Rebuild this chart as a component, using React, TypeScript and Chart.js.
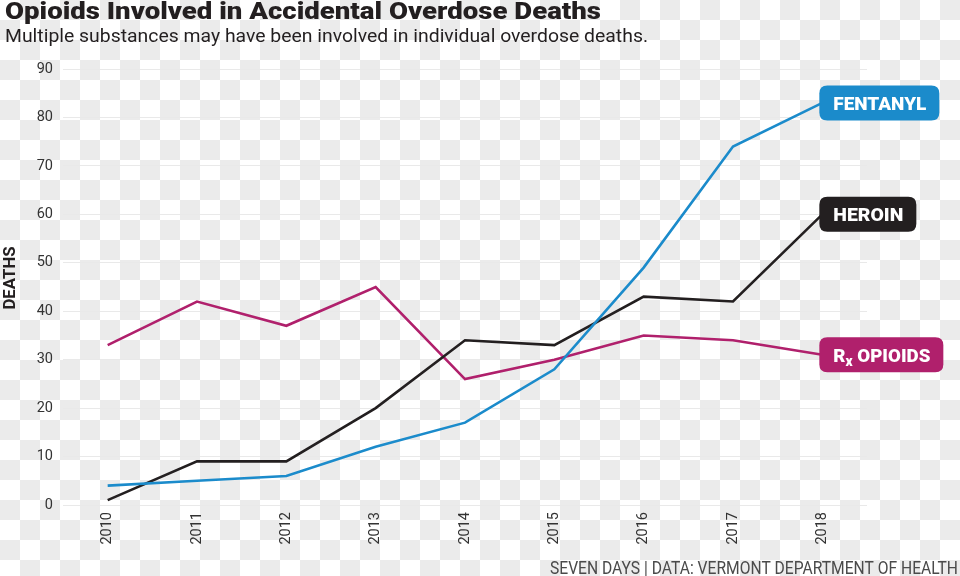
import React, { useEffect, useRef } from "react";
import { Chart, registerables } from "chart.js";

Chart.register(...registerables);

// ---- data ----
const years = ["2010", "2011", "2012", "2013", "2014", "2015", "2016", "2017", "2018"];
const fentanyl = [4, 5, 6, 12, 17, 28, 49, 74, 83];
const heroin = [1, 9, 9, 20, 34, 33, 43, 42, 60];
const rxOpioids = [33, 42, 37, 45, 26, 30, 35, 34, 31];
const yMin = 0;
const yMax = 90;
const yStep = 10;
const seriesNames = ["FENTANYL", "HEROIN", "Rx OPIOIDS"];

const TITLE = "Opioids Involved in Accidental Overdose Deaths";
const SUBTITLE = "Multiple substances may have been involved in individual overdose deaths.";
const SOURCE = "SEVEN DAYS | DATA: VERMONT DEPARTMENT OF HEALTH";
const Y_TITLE = "DEATHS";

// ---- styles ----
const COLORS = ["#1b8bcb", "#231f20", "#b0206c"];
const LABEL_TEXT_WIDTHS = [93, 70, 97];
const FONT = "Roboto, 'Noto Sans', sans-serif";

function fitText(
  ctx: CanvasRenderingContext2D,
  text: string,
  x: number,
  y: number,
  width: number,
  align: "left" | "right" | "center"
) {
  const natural = ctx.measureText(text).width || 1;
  const s = width / natural;
  const startX = align === "left" ? x : align === "right" ? x - width : x - width / 2;
  ctx.save();
  ctx.translate(startX, y);
  ctx.scale(s, 1);
  ctx.textAlign = "left";
  ctx.fillText(text, 0, 0);
  ctx.restore();
}

const textPlugin = {
  id: "textPlugin",
  afterDraw(chart: any) {
    const ctx: CanvasRenderingContext2D = chart.ctx;
    ctx.save();
    ctx.textBaseline = "alphabetic";
    ctx.fillStyle = "#231f20";
    ctx.font = `900 24.5px ${FONT}`;
    fitText(ctx, TITLE, 5, 19, 596, "left");
    ctx.font = `18px ${FONT}`;
    fitText(ctx, SUBTITLE, 5, 41.5, 643, "left");
    ctx.fillStyle = "#4a4a4a";
    ctx.font = `18px ${FONT}`;
    fitText(ctx, SOURCE, 958, 573.5, 408, "right");

    // y axis title
    ctx.fillStyle = "#231f20";
    ctx.font = `bold 16px ${FONT}`;
    ctx.save();
    ctx.translate(14.5, 278);
    ctx.rotate(-Math.PI / 2);
    fitText(ctx, Y_TITLE, 0, 0, 63, "center");
    ctx.restore();
    ctx.restore();
  },
};

function roundRect(ctx: CanvasRenderingContext2D, x: number, y: number, w: number, h: number, r: number) {
  ctx.beginPath();
  ctx.moveTo(x + r, y);
  ctx.lineTo(x + w - r, y);
  ctx.quadraticCurveTo(x + w, y, x + w, y + r);
  ctx.lineTo(x + w, y + h - r);
  ctx.quadraticCurveTo(x + w, y + h, x + w - r, y + h);
  ctx.lineTo(x + r, y + h);
  ctx.quadraticCurveTo(x, y + h, x, y + h - r);
  ctx.lineTo(x, y + r);
  ctx.quadraticCurveTo(x, y, x + r, y);
  ctx.closePath();
}

const labelPlugin = {
  id: "labelPlugin",
  afterDatasetsDraw(chart: any) {
    const ctx: CanvasRenderingContext2D = chart.ctx;
    chart.data.datasets.forEach((ds: any, i: number) => {
      const meta = chart.getDatasetMeta(i);
      const pt = meta.data[meta.data.length - 1];
      if (!pt) return;
      const name: string = seriesNames[i];
      const tw = LABEL_TEXT_WIDTHS[i];
      const w = tw + 27;
      const h = 35;
      const bx = pt.x - 3;
      const by = pt.y - h / 2;
      ctx.save();
      ctx.fillStyle = COLORS[i];
      roundRect(ctx, bx, by, w, h, 8);
      ctx.fill();
      ctx.fillStyle = "#ffffff";
      ctx.textBaseline = "alphabetic";
      const baseY = pt.y + 6.8;
      const tx = bx + 14;
      if (name.startsWith("Rx ")) {
        const rest = name.slice(2);
        ctx.font = `900 19px ${FONT}`;
        const wR = ctx.measureText("R").width;
        const wRest = ctx.measureText(rest).width;
        ctx.font = `900 14px ${FONT}`;
        const wx = ctx.measureText("x").width;
        const total = wR + wx + wRest;
        const s = tw / total;
        ctx.save();
        ctx.translate(tx, baseY);
        ctx.scale(s, 1);
        ctx.textAlign = "left";
        ctx.font = `900 19px ${FONT}`;
        ctx.fillText("R", 0, 0);
        ctx.font = `900 14px ${FONT}`;
        ctx.fillText("x", wR, 4);
        ctx.font = `900 19px ${FONT}`;
        ctx.fillText(rest, wR + wx, 0);
        ctx.restore();
      } else {
        ctx.font = `900 19px ${FONT}`;
        fitText(ctx, name, tx, baseY, tw, "left");
      }
      ctx.restore();
    });
  },
};

export default function App() {
  const ref = useRef<HTMLCanvasElement | null>(null);

  useEffect(() => {
    if (!ref.current) return;
    const chart = new Chart(ref.current, {
      type: "line",
      data: {
        labels: years,
        datasets: [
          { label: seriesNames[0], data: fentanyl, borderColor: COLORS[0], backgroundColor: COLORS[0] },
          { label: seriesNames[1], data: heroin, borderColor: COLORS[1], backgroundColor: COLORS[1] },
          { label: seriesNames[2], data: rxOpioids, borderColor: COLORS[2], backgroundColor: COLORS[2] },
        ].map((d) => ({ ...d, borderWidth: 2.6, pointRadius: 0, pointHoverRadius: 0, tension: 0, fill: false })),
      },
      options: {
        responsive: false,
        animation: false,
        devicePixelRatio: 1,
        layout: { padding: { top: 69, right: 93, bottom: 26, left: 0 } },
        plugins: {
          legend: { display: false },
          title: { display: false },
          tooltip: { enabled: false },
        },
        scales: {
          x: {
            type: "category",
            offset: true,
            grid: { display: false, drawTicks: false },
            border: { display: false },
            ticks: {
              minRotation: 90,
              maxRotation: 90,
              autoSkip: false,
              padding: 7,
              color: "#333333",
              font: { family: FONT, size: 14.5 },
            },
            afterFit: (scale: any) => {
              scale.height = 45;
            },
          },
          y: {
            min: yMin,
            max: yMax,
            grid: { color: "#e9e9e9", lineWidth: 1, drawTicks: false },
            border: { display: false },
            ticks: {
              stepSize: yStep,
              padding: 10,
              color: "#333333",
              font: { family: FONT, size: 14.5 },
            },
            afterFit: (scale: any) => {
              scale.width = 63;
            },
          },
        },
      },
      plugins: [textPlugin, labelPlugin],
    });
    return () => chart.destroy();
  }, []);

  return (
    <div
      style={{
        position: "absolute",
        left: 0,
        top: 0,
        width: 960,
        height: 576,
        background: "repeating-conic-gradient(#ebebeb 0% 25%, #ffffff 0% 50%) 0 0 / 40px 40px",
      }}
    >
      <canvas ref={ref} width={960} height={576} style={{ display: "block", width: 960, height: 576 }} />
    </div>
  );
}
